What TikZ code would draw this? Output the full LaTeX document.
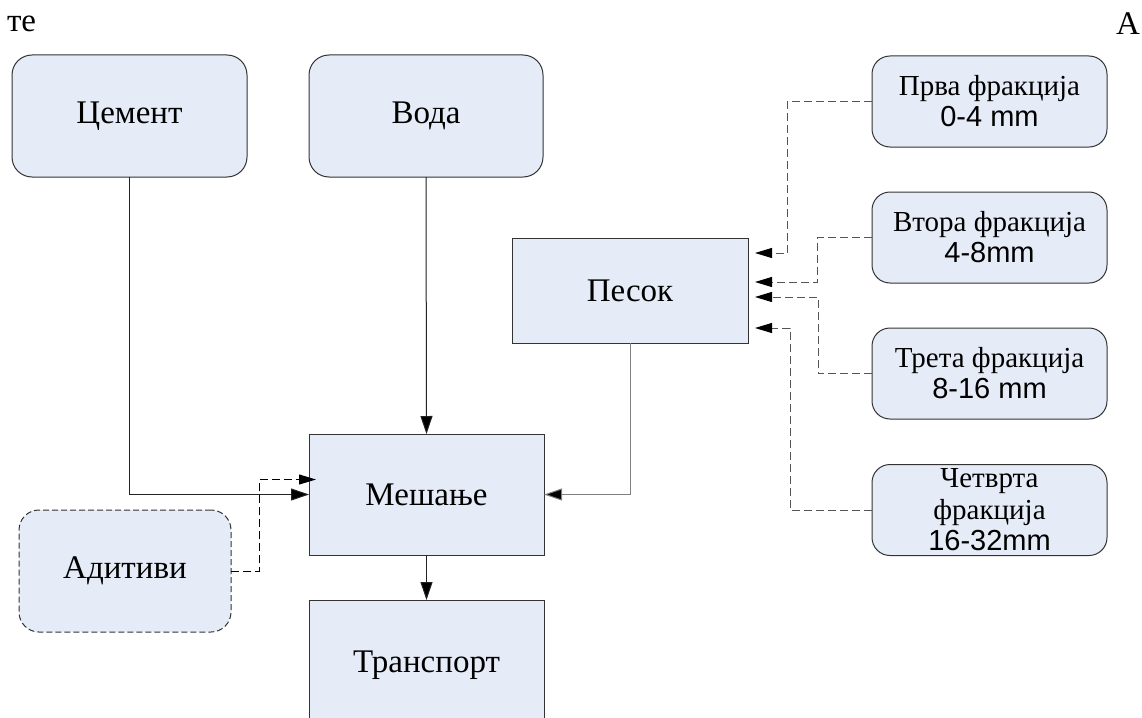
\documentclass[tikz,border=0pt]{standalone}
\usepackage{fontspec}
\setmainfont{Liberation Serif}
\newfontfamily\arialf{Liberation Sans}
\usetikzlibrary{arrows.meta,calc}
\definecolor{boxfill}{HTML}{E6ECF7}
\definecolor{boxline}{HTML}{333333}
\definecolor{conn}{HTML}{222222}
\definecolor{connb}{HTML}{555555}
\begin{document}
\begin{tikzpicture}[x=1pt,y=-1pt,
  every node/.style={inner sep=0pt, outer sep=0pt},
  bigtext/.style={font=\fontsize{33}{38}\selectfont},
  smalltext/.style={font=\fontsize{29}{31}\selectfont, align=center},
  rbox/.style={draw=boxline, fill=boxfill, line width=1pt, rounded corners=20pt, bigtext},
  sbox/.style={draw=boxline, fill=boxfill, line width=1pt, bigtext},
  fbox/.style={draw=boxline, fill=boxfill, line width=1pt, rounded corners=18pt, smalltext,
    minimum width=235pt, minimum height=91pt},
  solidarrow/.style={draw=conn, line width=1pt, -{Triangle[length=18pt,width=12pt,fill=black]}},
  dasharrow/.style={draw=connb, line width=1pt, dash pattern=on 8pt off 4pt, -{Triangle[length=17pt,width=10pt,fill=black,color=black]}},
]
\useasboundingbox (0,0) rectangle (1142,717);
\node[bigtext, anchor=west] (te) at (7,24) {те};
\node[bigtext, anchor=east] (A) at (1140,24) {А};

\node[rbox, minimum width=235pt, minimum height=122pt] (C) at (129.5,116) {Цемент};
\node[rbox, minimum width=234pt, minimum height=122pt] (V) at (426,116) {Вода};
\node[sbox, minimum width=236pt, minimum height=105pt] (P) at (630,290.5) {Песок};
\node[sbox, minimum width=235pt, minimum height=121pt] (M) at (426.5,494.5) {Мешање};
\node[sbox, minimum width=235pt, minimum height=130pt] (T) at (426.5,665) {Транспорт};
\node[rbox, dash pattern=on 6pt off 3pt, minimum width=212pt, minimum height=122pt] (Ad) at (125,571) {Адитиви};

\node[fbox] (F1) at (989.5,101.5) {Прва фракција\\{\arialf 0-4 mm}};
\node[fbox] (F2) at (989.5,237.5) {Втора фракција\\{\arialf 4-8mm}};
\node[fbox] (F3) at (989.5,373.5) {Трета фракција\\{\arialf 8-16 mm}};
\node[fbox, font=\fontsize{29}{31.5}\selectfont] (F4) at (989.5,510) {Четврта\\фракција\\{\arialf 16-32mm}};

% solid connectors
\draw[solidarrow] (V.south) -- (M.north);
\draw[solidarrow] (C.south) |- (M.west);
\draw[solidarrow, draw=gray] (P.south) |- (M.east);
\draw[solidarrow] (M.south) -- (T.north);

% additive
\coordinate (adin) at ([yshift=15pt]M.west);
\draw[dasharrow, draw=black] (Ad.east) -- ++(28,0) |- ([xshift=7pt]adin);

% fractions
\coordinate (p1) at ([xshift=7pt]P.east |- 0,253);
\coordinate (p2) at ([xshift=7pt]P.east |- 0,282);
\coordinate (p3) at ([xshift=7pt]P.east |- 0,297);
\coordinate (p4) at ([xshift=7pt]P.east |- 0,328);
\draw[dasharrow] (F1.west) -| (787,253) -- (p1);
\draw[dasharrow] (F2.west) -| (817,282) -- (p2);
\draw[dasharrow] (F3.west) -| (818,297) -- (p3);
\draw[dasharrow] (F4.west) -| (790,328) -- (p4);
\end{tikzpicture}
\end{document}
